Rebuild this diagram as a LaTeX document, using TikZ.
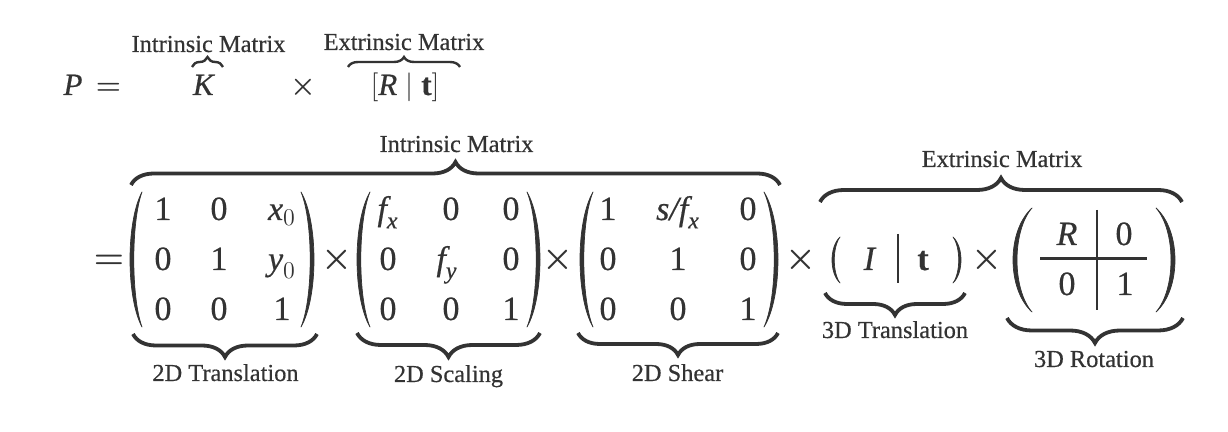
\documentclass[tikz,border=0pt]{standalone}
\usepackage{amsmath}
\usepackage{fontspec}
\setmainfont{Liberation Serif}[FakeBold=0.5]
\usetikzlibrary{decorations.pathreplacing}
\definecolor{ink}{RGB}{51,51,51}
\newcommand\myparL[5]{% x of ends, top y, bottom y, bulge, thickness
  \fill[ink,draw=ink,line width=0.35pt,line join=round]
    (#1,#2) .. controls ({#1-(#4)/0.75},{#2+0.22*(#3-#2)}) and ({#1-(#4)/0.75},{#3-0.22*(#3-#2)}) .. (#1,#3)
    .. controls ({#1-(#4-#5)/0.75},{#3-0.22*(#3-#2)}) and ({#1-(#4-#5)/0.75},{#2+0.22*(#3-#2)}) .. cycle;}
\newcommand\myparR[5]{%
  \fill[ink,draw=ink,line width=0.35pt,line join=round]
    (#1,#2) .. controls ({#1+(#4)/0.75},{#2+0.22*(#3-#2)}) and ({#1+(#4)/0.75},{#3-0.22*(#3-#2)}) .. (#1,#3)
    .. controls ({#1+(#4-#5)/0.75},{#3-0.22*(#3-#2)}) and ({#1+(#4-#5)/0.75},{#2+0.22*(#3-#2)}) .. cycle;}
\newcommand\mytimes{\boldsymbol{\times}}
\newcommand\myeq{\boldsymbol{=}}
\tikzset{
  lbl/.style={anchor=base, inner sep=0pt, text=ink, font=\fontsize{12.2pt}{14pt}\selectfont},
  ent/.style={anchor=base, inner sep=0pt, text=ink, font=\fontsize{17pt}{20pt}\selectfont},
  topf/.style={anchor=base, inner sep=0pt, text=ink, font=\fontsize{15.5pt}{18pt}\selectfont},
  brc/.style={draw=ink, line width=1.9pt, decorate, decoration={brace, amplitude=#1}},
  sbrc/.style={draw=ink, line width=1.2pt, decorate, decoration={brace, amplitude=#1}},
  rule/.style={draw=ink, line width=1.1pt},
}
\begin{document}
\begin{tikzpicture}[x=0.5pt,y=-0.5pt]
\fill[white] (0,0) rectangle (1228,432);
\useasboundingbox (0,0) rectangle (1228,432);

% ---------- top equation ----------
\node[topf] (P) at (73,95) {\textit{P}};
\node[topf] (eqA) at (108.5,95) {$\myeq$};
\node[topf] (K) at (204,95) {\textit{K}};
\node[topf] (xA) at (303,95) {$\mytimes$};
\node[topf] (Rt) at (405,95) {$[\textit{R}\mid\textbf{t}]$};
\coordinate (kbL) at (192,67); \coordinate (kbR) at (223,67);
\coordinate (rbL) at (348,67); \coordinate (rbR) at (460,67);
\draw[sbrc=5pt] (kbL) -- (kbR);
\draw[sbrc=5pt] (rbL) -- (rbR);
\node[lbl] (labKA) at (208.5,52) {Intrinsic Matrix};
\node[lbl] (labEA) at (404,50) {Extrinsic Matrix};

% ---------- second row ----------
\node[ent] (eqB) at (109,268.5) {$\myeq$};

% matrix 1 : 2D translation
\myparL{142}{192}{327}{12}{3.8}
\myparR{301}{192}{327}{13}{3.8}
\node[ent] (a11) at (163,220) {1};
\node[ent] (a12) at (219,220) {0};
\node[ent] (a13) at (282,220) {$\textit{x}_{0}$};
\node[ent] (a21) at (163,270) {0};
\node[ent] (a22) at (219,270) {1};
\node[ent] (a23) at (282,270) {$\textit{y}_{0}$};
\node[ent] (a31) at (163,320) {0};
\node[ent] (a32) at (219,320) {0};
\node[ent] (a33) at (282,320) {1};
\node[ent] (xB) at (337,268.5) {$\mytimes$};

% matrix 2 : 2D scaling
\myparL{370}{192}{327}{13}{3.8}
\myparR{527}{192}{327}{13}{3.8}
\node[ent] (b11) at (388,220) {$\textit{f}_{\textit{x}}$};
\node[ent] (b12) at (451,220) {0};
\node[ent] (b13) at (511,220) {0};
\node[ent] (b21) at (388,270) {0};
\node[ent] (b22) at (447,270) {$\textit{f}_{\textit{y}}$};
\node[ent] (b23) at (511,270) {0};
\node[ent] (b31) at (388,320) {0};
\node[ent] (b32) at (451,320) {0};
\node[ent] (b33) at (511,320) {1};
\node[ent] (xC) at (557.5,268.5) {$\mytimes$};

% matrix 3 : 2D shear
\myparL{593}{192}{327}{13}{3.8}
\myparR{764}{192}{327}{14}{3.8}
\node[ent] (c11) at (608,220) {1};
\node[ent] (c12) at (678,220) {$\textit{s/f}_{\textit{x}}$};
\node[ent] (c13) at (748,220) {0};
\node[ent] (c21) at (608,270) {0};
\node[ent] (c22) at (678,270) {1};
\node[ent] (c23) at (748,270) {0};
\node[ent] (c31) at (608,320) {0};
\node[ent] (c32) at (678,320) {0};
\node[ent] (c33) at (748,320) {1};
\node[ent] (xD) at (801,268.5) {$\mytimes$};

% ( I | t )
\myparL{840}{237}{283}{8}{2.3}
\myparR{953}{237}{283}{8}{2.3}
\node[ent] (dI) at (870,270) {\textit{I}};
\node[ent] (dt) at (923,270) {\textbf{t}};
\coordinate (dvT) at (898,234); \coordinate (dvB) at (898,283);
\draw[rule] (dvT) -- (dvB);
\node[ent] (xE) at (987,268.5) {$\mytimes$};

% rotation block
\myparL{1032}{208}{312}{19}{4}
\myparR{1156}{208}{312}{19}{4}
\node[ent] (eR) at (1067,245) {\textit{R}};
\node[ent] (e12) at (1124,245) {0};
\node[ent] (e21) at (1067,295) {0};
\node[ent] (e22) at (1125,295) {1};
\coordinate (evT) at (1097,210); \coordinate (evB) at (1097,310);
\coordinate (ehL) at (1040,258.5); \coordinate (ehR) at (1147,258.5);
\draw[rule] (evT) -- (evB);
\draw[rule] (ehL) -- (ehR);

% braces over
\coordinate (ibL) at (131,185); \coordinate (ibR) at (780,185);
\draw[brc=11.5pt] (ibL) -- (ibR);
\node[lbl] (labKB) at (456.5,152) {Intrinsic Matrix};
\coordinate (ebL) at (820,202); \coordinate (ebR) at (1182,202);
\draw[brc=12pt] (ebL) -- (ebR);
\node[lbl] (labEB) at (1002,167) {Extrinsic Matrix};

% braces under
\coordinate (u1L) at (133,334); \coordinate (u1R) at (317,334);
\draw[brc=11.5pt] (u1R) -- (u1L);
\node[lbl] (lab1) at (225.5,381) {2D Translation};
\coordinate (u2L) at (357,333); \coordinate (u2R) at (540,333);
\draw[brc=12pt] (u2R) -- (u2L);
\node[lbl] (lab2) at (448.5,382) {2D Scaling};
\coordinate (u3L) at (578,333); \coordinate (u3R) at (778,333);
\draw[brc=11pt] (u3R) -- (u3L);
\node[lbl] (lab3) at (677.5,381) {2D Shear};
\coordinate (u4L) at (825,293); \coordinate (u4R) at (965,293);
\draw[brc=11pt] (u4R) -- (u4L);
\node[lbl] (lab4) at (895,338) {3D Translation};
\coordinate (u5L) at (1007,318); \coordinate (u5R) at (1183,318);
\draw[brc=12.5pt] (u5R) -- (u5L);
\node[lbl] (lab5) at (1094,367) {3D Rotation};
\end{tikzpicture}
\end{document}
